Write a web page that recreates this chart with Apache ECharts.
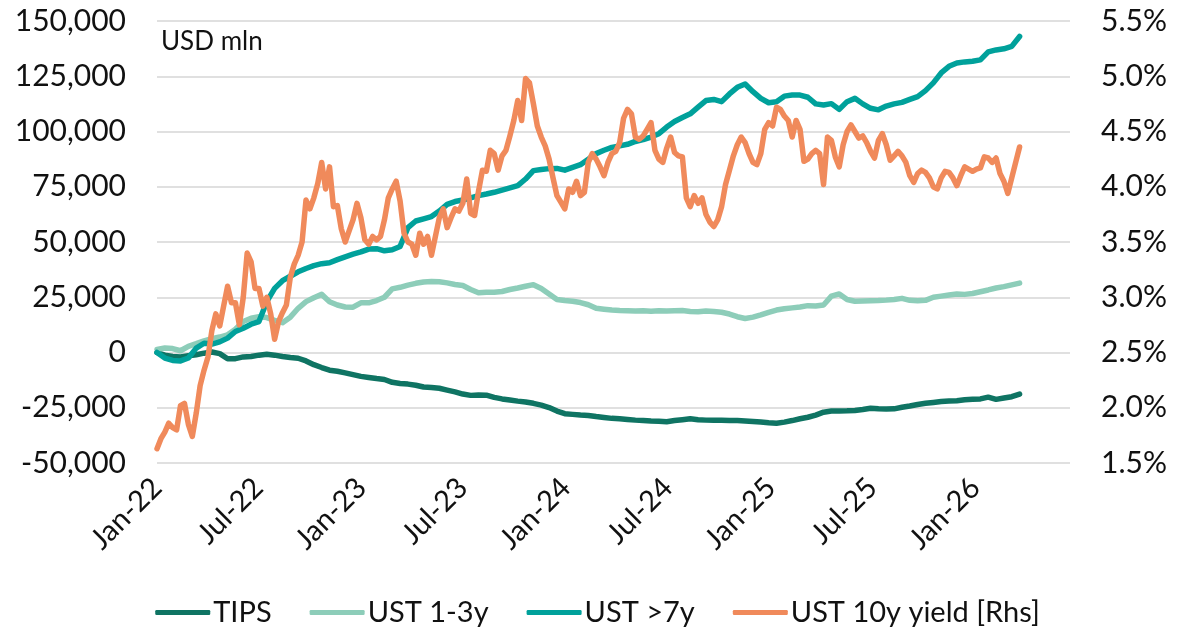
<!DOCTYPE html>
<html>
<head>
<meta charset="utf-8">
<script src="https://cdn.jsdelivr.net/npm/echarts@6/dist/echarts.min.js"></script>
<style>
  html, body { margin: 0; padding: 0; background: #fff; }
  #chart { width: 1195px; height: 635px; }
</style>
</head>
<body>
<div id="chart"></div>
<script>
  const DAY = 86400000
  const startDate = Date.UTC(2022, 0, 1)
  const endDate = Date.UTC(2026, 5, 19)
  // flows sampled every 2 weeks, yield every week
  const flowStepDays = 14
  const yieldStepDays = 7

  const tickDates = [
    Date.UTC(2022, 0, 1), Date.UTC(2022, 6, 1), Date.UTC(2023, 0, 1), Date.UTC(2023, 6, 1),
    Date.UTC(2024, 0, 1), Date.UTC(2024, 6, 1), Date.UTC(2025, 0, 1), Date.UTC(2025, 6, 1),
    Date.UTC(2026, 0, 1)
  ]
  const tickLabels = ['Jan-22', 'Jul-22', 'Jan-23', 'Jul-23', 'Jan-24', 'Jul-24', 'Jan-25', 'Jul-25', 'Jan-26']

  const seriesNames = ['TIPS', 'UST 1-3y', 'UST >7y', 'UST 10y yield [Rhs]']
  const colors = ['#0f7463', '#8dcdb9', '#00a19b', '#f08a5b']

  // USD mln
  const tips = [
    0, -1200, -1800, -2000, -1500, -1000, -300, 200, -500, -2800,
    -2800, -2000, -1800, -1200, -800, -1200, -1800, -2300, -2600, -3800,
    -5500, -6800, -8000, -8500, -9200, -10000, -10800, -11300, -11800, -12200,
    -13500, -14000, -14300, -14800, -15600, -15800, -16200, -17000, -17800, -18800,
    -19400, -19200, -19300, -20300, -21000, -21500, -22000, -22400, -23000, -23800,
    -24900, -26500, -27700, -28000, -28300, -28500, -29000, -29400, -29800, -30000,
    -30300, -30600, -30800, -31000, -31100, -31300, -30800, -30400, -30000, -30400,
    -30600, -30700, -30700, -30800, -30800, -31000, -31200, -31500, -31800, -32000,
    -31500, -30800, -30000, -29300, -28300, -27000, -26500, -26500, -26400, -26200,
    -25800, -25200, -25500, -25600, -25500, -24800, -24200, -23500, -23000, -22600,
    -22200, -22000, -21800, -21400, -21200, -21000, -20200, -21200, -20600, -20000,
    -18800
  ]
  const ust13 = [
    1400, 2000, 1800, 800, 2800, 4000, 5300, 6300, 7000, 8000,
    10500, 14000, 15500, 16200, 15800, 14500, 13500, 16000, 20000, 23000,
    24800, 26300, 23000, 21500, 20600, 20500, 22500, 22500, 23500, 25000,
    28800, 29500, 30500, 31300, 31900, 32100, 32000, 31500, 30800, 30300,
    28500, 27000, 27300, 27300, 27600, 28500, 29200, 30000, 30700, 29000,
    26500, 24000, 23500, 23200, 22600, 21600, 20000, 19600, 19200, 19000,
    18900, 18800, 18900, 18700, 18900, 18800, 18900, 19000, 18600, 18400,
    18800, 18600, 18200, 17400, 16200, 15400, 16000, 17000, 18200, 19200,
    19800, 20200, 20600, 21200, 21000, 21500, 25500, 26500, 24000, 23200,
    23300, 23400, 23500, 23700, 24000, 24500, 23600, 23400, 23600, 25000,
    25500, 26000, 26500, 26300, 26700, 27500, 28300, 29200, 29800, 30600,
    31400
  ]
  const ust7 = [
    0, -2500, -3600, -3800, -2500, 2000, 4200, 3800, 4800, 6500,
    9500, 11000, 12800, 14000, 23000, 29000, 32500, 34500, 36500, 38000,
    39300, 40200, 40600, 42000, 43300, 44500, 45500, 46800, 47000, 46000,
    46500, 48000, 56500, 59500, 60500, 61500, 64000, 67000, 68300, 69000,
    70000, 71000, 71700, 72500, 73500, 74500, 75500, 78500, 82300, 82800,
    83200, 83300, 82500, 83800, 85000, 87500, 90000, 91500, 92800, 93500,
    94200, 95500, 96300, 97500, 99000, 102000, 104500, 106300, 108000, 111000,
    114000, 114500, 113500, 117000, 120000, 121500, 118000, 115000, 113000, 113500,
    116000, 116500, 116500, 115500, 112500, 112000, 112600, 110000, 113500, 115000,
    112500, 110500, 109800, 111500, 112500, 113200, 114500, 115800, 118500, 122000,
    126500, 129500, 131000, 131500, 131800, 132400, 136000, 136900, 137400, 138500,
    143000
  ]
  // %
  const yield10 = [
    1.63, 1.72, 1.78, 1.86, 1.82, 1.80, 2.02, 2.04, 1.85, 1.74,
    1.95, 2.20, 2.34, 2.46, 2.70, 2.85, 2.74, 2.92, 3.10, 2.95,
    2.95, 2.75, 3.00, 3.40, 3.32, 3.08, 3.08, 2.92, 3.00, 2.85,
    2.62, 2.78, 2.86, 2.93, 3.18, 3.30, 3.38, 3.50, 3.88, 3.80,
    3.90, 4.03, 4.22, 3.98, 4.18, 3.82, 3.83, 3.62, 3.50, 3.60,
    3.70, 3.85, 3.72, 3.52, 3.48, 3.55, 3.52, 3.55, 3.70, 3.90,
    3.98, 4.05, 3.87, 3.58, 3.50, 3.48, 3.38, 3.58, 3.48, 3.55,
    3.38, 3.55, 3.72, 3.80, 3.63, 3.72, 3.80, 3.78, 3.85, 4.07,
    3.76, 3.74, 3.96, 4.15, 4.14, 4.33, 4.30, 4.15, 4.28, 4.33,
    4.46, 4.60, 4.78, 4.60, 4.98, 4.94, 4.75, 4.55, 4.45, 4.37,
    4.25, 4.08, 3.92, 3.86, 3.80, 3.98, 3.95, 4.05, 3.92, 3.95,
    4.22, 4.30, 4.25, 4.18, 4.10, 4.22, 4.30, 4.32, 4.40, 4.62,
    4.70, 4.66, 4.45, 4.43, 4.46, 4.52, 4.58, 4.33, 4.25, 4.22,
    4.35, 4.45, 4.31, 4.28, 4.27, 3.90, 3.82, 3.92, 3.85, 3.90,
    3.75, 3.68, 3.64, 3.70, 3.82, 4.02, 4.15, 4.28, 4.38, 4.45,
    4.40, 4.30, 4.22, 4.20, 4.30, 4.52, 4.58, 4.55, 4.72, 4.70,
    4.64, 4.60, 4.45, 4.60, 4.52, 4.23, 4.25, 4.30, 4.33, 4.30,
    4.02, 4.45, 4.42, 4.27, 4.18, 4.38, 4.50, 4.56, 4.50, 4.44,
    4.46, 4.40, 4.32, 4.26, 4.42, 4.48, 4.38, 4.24, 4.28, 4.32,
    4.28, 4.22, 4.10, 4.04, 4.12, 4.15, 4.13, 4.08, 4.00, 3.98,
    4.08, 4.14, 4.13, 4.08, 4.01, 4.10, 4.18, 4.16, 4.14, 4.16,
    4.17, 4.27, 4.26, 4.22, 4.26, 4.12, 4.05, 3.94, 4.08, 4.22, 4.36
  ]

  const font = 'Lato'
  const textColor = '#111'

  const toPoints = (arr, stepDays)=> arr.map((v, i)=> [startDate + i * stepDays * DAY, v])

  const lineSeries = (name, data, idx, yAxisIndex)=> ({
    name: name,
    type: 'line',
    data: data,
    yAxisIndex: yAxisIndex,
    showSymbol: false,
    symbol: 'none',
    lineStyle: { width: 5.5, color: colors[idx], cap: 'round', join: 'round' },
    itemStyle: { color: colors[idx] },
    emphasis: { disabled: true },
    animation: false
  })

  const chart = echarts.init(document.getElementById('chart'))
  const option = {
    animation: false,
    color: colors,
    grid: { left: 157, right: 125, top: 21, bottom: 172, containLabel: false },
    graphic: [
      {
        type: 'text', left: 161, top: 29,
        style: { text: 'USD mln', font: '26px Lato', fill: textColor }
      }
    ],
    legend: {
      data: seriesNames,
      bottom: 3,
      left: 'center',
      icon: 'roundRect',
      itemWidth: 55,
      itemHeight: 5,
      itemGap: 38,
      textStyle: { fontFamily: font, fontSize: 29, color: textColor, padding: [0, 0, 0, -2] }
    },
    xAxis: {
      type: 'value',
      min: startDate,
      max: endDate,
      axisLine: { show: false },
      axisTick: { show: false },
      splitLine: { show: false },
      axisLabel: {
        customValues: tickDates,
        rotate: 45,
        margin: 20,
        fontFamily: font,
        fontSize: 29,
        color: textColor,
        formatter: (val)=> {
          const i = tickDates.indexOf(val)
          return i >= 0 ? tickLabels[i] : ''
        }
      }
    },
    yAxis: [
      {
        type: 'value',
        min: -50000,
        max: 150000,
        interval: 25000,
        axisLine: { show: false },
        axisTick: { show: false },
        splitLine: { show: true, lineStyle: { color: '#e0e0e0', width: 2 } },
        axisLabel: {
          margin: 31,
          fontFamily: font,
          fontSize: 30,
          color: textColor,
          formatter: (v)=> v.toLocaleString('en-US')
        }
      },
      {
        type: 'value',
        min: 1.5,
        max: 5.5,
        interval: 0.5,
        position: 'right',
        axisLine: { show: false },
        axisTick: { show: false },
        splitLine: { show: false },
        axisLabel: {
          margin: 31,
          fontFamily: font,
          fontSize: 30,
          color: textColor,
          formatter: (v)=> v.toFixed(1) + '%'
        }
      }
    ],
    series: [
      lineSeries(seriesNames[0], toPoints(tips, flowStepDays), 0, 0),
      lineSeries(seriesNames[1], toPoints(ust13, flowStepDays), 1, 0),
      lineSeries(seriesNames[2], toPoints(ust7, flowStepDays), 2, 0),
      lineSeries(seriesNames[3], toPoints(yield10, yieldStepDays), 3, 1)
    ]
  }
  chart.setOption(option)
  window.addEventListener('resize', ()=> {
    chart.resize()
  })
</script>
</body>
</html>
